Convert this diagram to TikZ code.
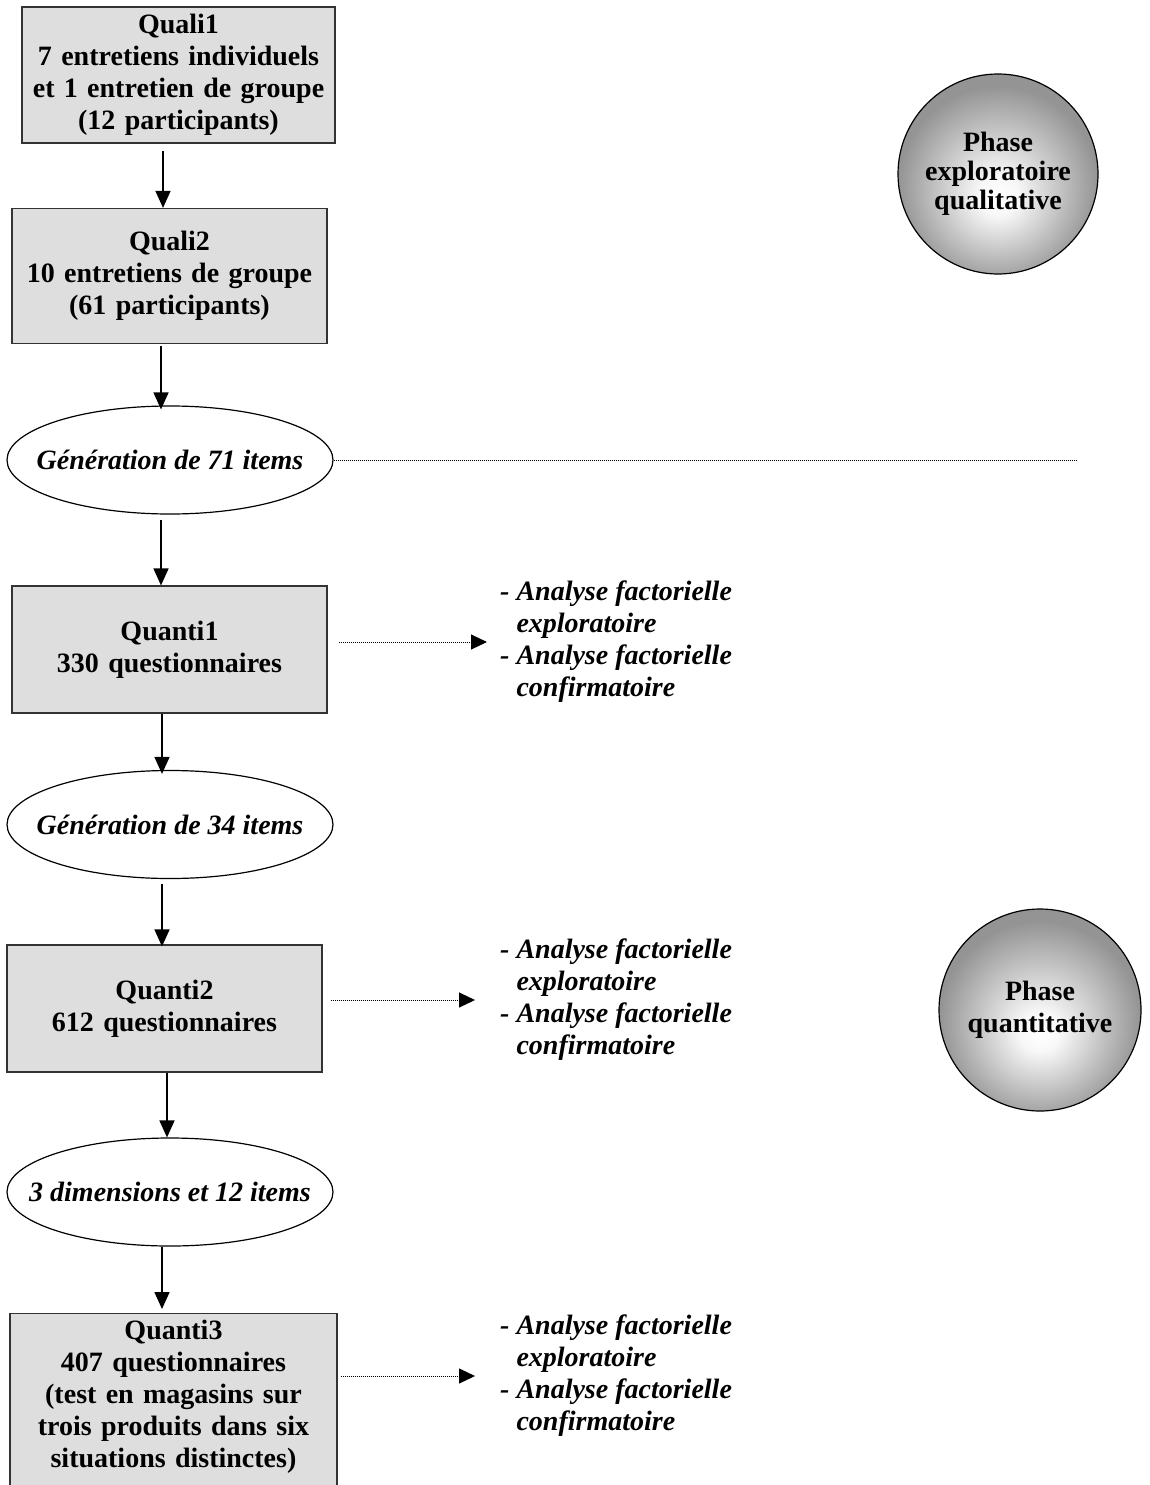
\documentclass[tikz,border=0pt]{standalone}
\usepackage{fontspec}
\setmainfont{Liberation Serif}
\usetikzlibrary{shapes.geometric,arrows.meta}
\pgfdeclareradialshading{phaseshade}{\pgfpoint{0bp}{-6bp}}{color(0bp)=(white); color(5bp)=(white!97!black); color(25bp)=(black!42); color(50bp)=(black!42)}
\begin{document}
\begin{tikzpicture}[x=1pt, y=-1pt,
  every node/.style={font=\fontsize{28}{32}\selectfont\bfseries},
  stepbox/.style={rectangle, draw=black!80, line width=1.2pt, fill=black!13, inner sep=0pt, text width=300pt, align=center},
  genell/.style={ellipse, draw, line width=1.2pt, inner sep=0pt, minimum width=326pt, minimum height=108pt, font=\fontsize{28}{32}\selectfont\bfseries\itshape},
  phase/.style={circle, draw, line width=1.2pt, shade, shading=phaseshade, minimum size=200pt, inner sep=0pt, align=center},
  note/.style={inner sep=0pt, align=left, anchor=west, font=\fontsize{28}{32}\selectfont\bfseries\itshape},
  flow/.style={line width=1.5pt, -{Triangle[length=17pt,width=15pt]}},
  dotline/.style={line width=1pt, dash pattern=on 1pt off 1pt},
  dotarrow/.style={dotline, -{Triangle[length=16pt,width=15pt]}}]
\useasboundingbox (0,0) rectangle (1149,1485);
\clip (0,0) rectangle (1149,1485);
\node[stepbox, minimum width=313pt, minimum height=136pt] (q1) at (178.5,75) {Quali1\\7 entretiens individuels\\et 1 entretien de groupe\\(12 participants)};
\node[stepbox, minimum width=315pt, minimum height=135pt] (q2) at (169.5,276) {Quali2\\10 entretiens de groupe\\(61 participants)};
\node[genell] (g1) at (170,460) {\makebox[0pt]{Génération de 71 items}};
\node[stepbox, minimum width=315pt, minimum height=127pt] (qt1) at (169.5,649.5) {Quanti1\\330 questionnaires};
\node[genell] (g2) at (170,824.5) {\makebox[0pt]{Génération de 34 items}};
\node[stepbox, minimum width=315pt, minimum height=127pt] (qt2) at (164.5,1008.5) {Quanti2\\612 questionnaires};
\node[genell] (g3) at (170,1192) {\makebox[0pt]{3 dimensions et 12 items}};
\node[stepbox, text width=320pt, minimum width=327pt, anchor=north, inner ysep=6pt] (qt3) at (173.5,1313) {Quanti3\\407 questionnaires\\(test en magasins sur\\trois produits dans six\\situations distinctes)\rule[-30pt]{0pt}{30pt}};
\node[note] (nt1) at (500,642) {- Analyse factorielle\\\phantom{- }exploratoire\\- Analyse factorielle\\\phantom{- }confirmatoire};
\node[note] (nt2) at (500,1000) {- Analyse factorielle\\\phantom{- }exploratoire\\- Analyse factorielle\\\phantom{- }confirmatoire};
\node[note] (nt3) at (500,1376) {- Analyse factorielle\\\phantom{- }exploratoire\\- Analyse factorielle\\\phantom{- }confirmatoire};
\node[phase, font=\fontsize{28}{29}\selectfont\bfseries] (ph1) at (998,174) {Phase\\exploratoire\\qualitative};
\node[phase, minimum size=202pt] (ph2) at (1040,1010) {Phase\\quantitative};
\coordinate (lineend) at (1077,460);
\draw[flow] ([xshift=-15.5pt,yshift=-7pt]q1.south) -- ([xshift=-6.5pt]q2.north);
\draw[flow] ([xshift=-8.5pt,yshift=-2pt]q2.south) -- ([xshift=-9pt,yshift=-4pt]g1.north);
\draw[flow] ([xshift=-9pt,yshift=-5pt]g1.south) -- ([xshift=-8.5pt]qt1.north);
\draw[flow] ([xshift=-7.5pt]qt1.south) -- ([xshift=-8pt,yshift=-4pt]g2.north);
\draw[flow] ([xshift=-8pt,yshift=-5pt]g2.south) -- ([xshift=-2.5pt,yshift=-2pt]qt2.north);
\draw[flow] ([xshift=2.5pt]qt2.south) -- ([xshift=-3pt]g3.north);
\draw[flow] ([xshift=-8pt]g3.south) -- ([xshift=-11.5pt,yshift=4pt]qt3.north);
\draw[dotline] (g1.east) -- (lineend);
\draw[dotarrow, shorten <=11pt, shorten >=13pt] (qt1.east |- nt1.west) -- (nt1.west);
\draw[dotarrow, shorten <=8pt, shorten >=25pt] (qt2.east |- nt2.west) -- (nt2.west);
\draw[dotarrow, shorten <=3pt, shorten >=25pt] (qt3.east |- nt3.west) -- (nt3.west);
\end{tikzpicture}
\end{document}
